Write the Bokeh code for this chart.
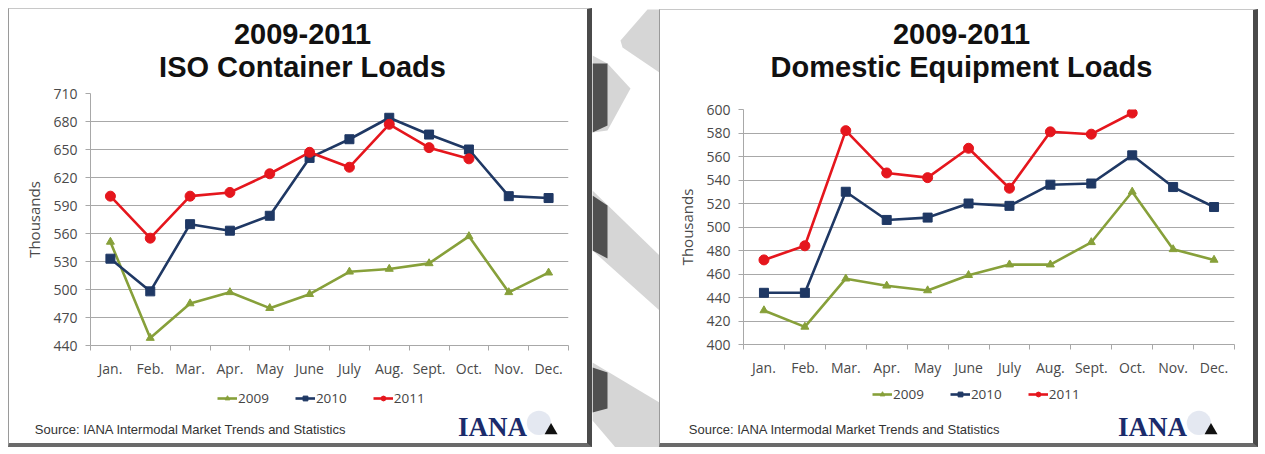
from bokeh.plotting import figure
from bokeh.layouts import row, column
from bokeh.models import Range1d, FixedTicker, Legend, LegendItem, Spacer
from bokeh.core.properties import value
from bokeh.embed import file_html
from bokeh.resources import INLINE

months = ["Jan.", "Feb.", "Mar.", "Apr.", "May", "June", "July", "Aug.", "Sept.", "Oct.", "Nov.", "Dec."]
years = ["2009", "2010", "2011"]

iso_2009 = [551, 448, 485, 497, 480, 495, 519, 522, 528, 557, 497, 518]
iso_2010 = [533, 498, 570, 563, 579, 641, 661, 684, 666, 650, 600, 598]
iso_2011 = [600, 555, 600, 604, 624, 647, 631, 677, 652, 640]
iso_ticks = [440, 470, 500, 530, 560, 590, 620, 650, 680, 710]

dom_2009 = [429, 415, 456, 450, 446, 459, 468, 468, 487, 530, 481, 472]
dom_2010 = [444, 444, 530, 506, 508, 520, 518, 536, 537, 561, 534, 517]
dom_2011 = [472, 484, 582, 546, 542, 567, 533, 581, 579, 597]
dom_ticks = [400, 420, 440, 460, 480, 500, 520, 540, 560, 580, 600]

source_text = "Source: IANA Intermodal Market Trends and Statistics"

colors = {"2009": "#87a03a", "2010": "#1f3864", "2011": "#e5161d"}
markers = {"2009": "triangle", "2010": "square", "2011": "circle"}
msizes = {"2009": 8, "2010": 9, "2011": 10}

TICK_FONT = "Open Sans"
GRID = "#a8a8a8"
BL, BT, BR, BB = 1, 1, 5, 4  # panel border widths


def blank(w, h, x0, x1, y0, y1, styles):
    f = figure(width=w, height=h, output_backend="svg", toolbar_location=None, title=None,
               x_range=Range1d(x0, x1), y_range=Range1d(y1, y0),
               x_axis_type=None, y_axis_type=None, min_border=0, frame_align=False,
               background_fill_color="white", border_fill_color="white")
    f.outline_line_color = None
    f.grid.visible = False
    f.styles = styles
    return f


def style_line(fig, xs, vals, yr, **kw):
    ln = fig.line(xs, vals, line_color=colors[yr], line_width=2.6, **kw)
    sc = fig.scatter(xs, vals, marker=markers[yr], size=msizes[yr],
                     fill_color=colors[yr], line_color=colors[yr], **kw)
    return ln, sc


def make_panel(title1, title2, series, ticks, spec):
    # spec in page pixels
    (px0, py0, cw, fl, fr, ft, fb, head_h, chart_bot, content_bot,
     title_cx, leg_x, leg_bot, src_x, logo_x) = spec
    cx0 = px0 + BL          # content left
    cy0 = py0 + BT          # content top
    W = cw + BL + BR
    side = {"border-left": f"{BL}px solid #9a9a9a", "border-right": f"{BR}px solid #4a4a4a"}

    # header with the two title lines
    hy1 = cy0 + head_h
    head = blank(W, head_h + BT, cx0, cx0 + cw, cy0, hy1,
                 dict(side, **{"border-top": f"{BT}px solid #c8c8c8"}))
    head.text(x=[title_cx, title_cx], y=[33, 66], text=[title1, title2],
              text_align="center", text_baseline="middle",
              text_font=value("Liberation Sans"), text_font_style="bold",
              text_font_size="29px", text_color="#111111")

    # chart
    lo, hi = ticks[0], ticks[-1]
    p = figure(width=W, height=chart_bot - hy1, output_backend="svg", toolbar_location=None,
               title=None, x_range=Range1d(0, 12), y_range=Range1d(lo, hi),
               min_border_left=fl - cx0, min_border_right=(cx0 + cw) - fr,
               min_border_top=ft - hy1, min_border_bottom=chart_bot - fb,
               frame_align=False,
               background_fill_color="white", border_fill_color="white")
    p.outline_line_color = None
    p.styles = side

    centers = [i + 0.5 for i in range(len(months))]
    xa = p.xaxis[0]
    xa.ticker = FixedTicker(ticks=centers, minor_ticks=list(range(len(months) + 1)))
    xa.major_label_overrides = {c: m for c, m in zip(centers, months)}
    xa.major_tick_out = 0
    xa.major_tick_in = 0
    xa.minor_tick_out = 5
    xa.minor_tick_in = 0
    xa.minor_tick_line_color = GRID
    xa.axis_line_color = GRID
    xa.major_label_text_font = TICK_FONT
    xa.major_label_text_font_size = "14px"
    xa.major_label_text_color = "#4a4a4a"
    xa.major_label_standoff = 8

    ya = p.yaxis[0]
    ya.ticker = FixedTicker(ticks=ticks, minor_ticks=[])
    ya.major_tick_out = 5
    ya.major_tick_in = 0
    ya.major_tick_line_color = GRID
    ya.axis_line_color = GRID
    ya.major_label_text_font = TICK_FONT
    ya.major_label_text_font_size = "14px"
    ya.major_label_text_color = "#4a4a4a"
    ya.major_label_standoff = 8
    ya.axis_label = "Thousands"
    ya.axis_label_text_font = TICK_FONT
    ya.axis_label_text_font_size = "15px"
    ya.axis_label_text_font_style = "normal"
    ya.axis_label_text_color = "#4a4a4a"
    ya.axis_label_standoff = 6

    p.xgrid.grid_line_color = None
    p.ygrid.grid_line_color = GRID
    p.ygrid.grid_line_width = 1.2

    for yr, vals in zip(years, series):
        style_line(p, centers[:len(vals)], vals, yr)

    # footer: legend, source and logo
    foot_h = content_bot - chart_bot
    foot = blank(W, foot_h + BB, cx0, cx0 + cw, chart_bot, content_bot,
                 dict(side, **{"border-bottom": f"{BB}px solid #6a6a6a"}))
    items = []
    for yr, vals in zip(years, series):
        ln, sc = style_line(foot, centers[:len(vals)], vals, yr, visible=False)
        sc.glyph.size = msizes[yr] - 1
        items.append(LegendItem(label=yr, renderers=[ln, sc]))
    leg = Legend(items=items, orientation="horizontal",
                 location=(leg_x - cx0, content_bot - leg_bot),
                 glyph_width=20, glyph_height=12, label_standoff=1, spacing=26,
                 padding=0, margin=0, border_line_color=None, background_fill_alpha=0,
                 inactive_fill_alpha=0, click_policy="none",
                 label_text_font=TICK_FONT, label_text_font_size="13.5px",
                 label_text_color="#444444", label_height=14)
    foot.add_layout(leg, "center")
    foot.text(x=[src_x], y=[426], text=[source_text], text_align="left",
              text_baseline="middle", text_font=value("Liberation Sans"),
              text_font_size="13px", text_color="#333333")
    foot.circle(x=[logo_x + 80], y=[420], radius=12, fill_color="#c3cde0",
                fill_alpha=0.45, line_color=None)
    foot.text(x=[logo_x], y=[424], text=["IANA"], text_align="left",
              text_baseline="middle", text_font=value("Liberation Serif"),
              text_font_style="bold", text_font_size="27px", text_color="#1b2b6b")
    foot.scatter(x=[logo_x + 92], y=[427], marker="triangle", size=13,
                 fill_color="#111111", line_color=None)

    return column(Spacer(height=py0, width=W), head, p, foot, spacing=0)


left = make_panel("2009-2011", "ISO Container Loads", [iso_2009, iso_2010, iso_2011], iso_ticks,
                  (8, 8, 578, 90, 562, 93, 345, 74, 384, 443, 299, 217, 403, 34, 453))
right = make_panel("2009-2011", "Domestic Equipment Loads", [dom_2009, dom_2010, dom_2011], dom_ticks,
                   (659, 9, 593, 743, 1228, 109, 344, 89, 383, 443, 958, 872, 399, 688, 1113))

mid = blank(67, 447, 592, 659, 0, 447, {})
light_x = [[620, 647, 659, 659, 622], [592, 607, 630, 607, 592],
           [592, 659, 659, 592], [592, 659, 659, 615, 592]]
light_y = [[40, 9, 9, 72, 47], [55, 63, 88, 130, 132],
           [190, 255, 310, 250], [362, 402, 447, 447, 420]]
mid.patches(light_x, light_y, fill_color="#d6d6d6", line_color=None)
dark_x = [[592, 607, 607, 592], [592, 607, 607, 592], [592, 607, 607, 592]]
dark_y = [[63, 63, 125, 132], [195, 205, 258, 250], [367, 372, 408, 412]]
mid.patches(dark_x, dark_y, fill_color="#505050", line_color=None)

layout = row(Spacer(width=8, height=10), left, mid, right, spacing=0)
open("out.html", "w").write(file_html(layout, INLINE))
